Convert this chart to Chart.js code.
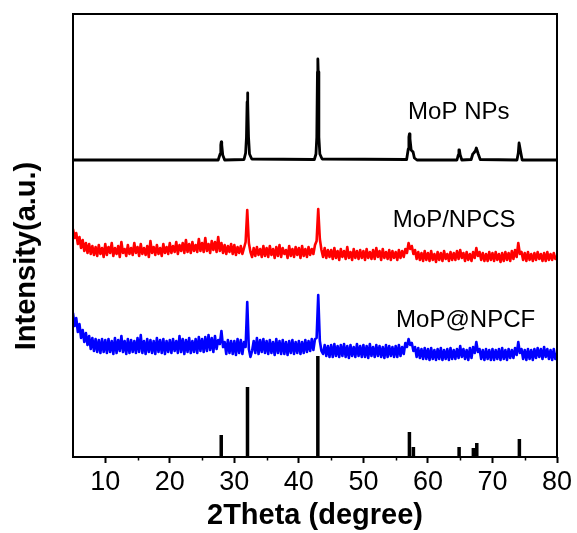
<!DOCTYPE html>
<html>
<head>
<meta charset="utf-8">
<script src="https://cdn.jsdelivr.net/npm/chart.js@4/dist/chart.umd.min.js"></script>
<style>
  html, body { margin: 0; padding: 0; background: #fff; }
  #wrap { width: 577px; height: 533px; }
</style>
</head>
<body>
<div id="wrap"><canvas id="xrd" width="577" height="533"></canvas></div>
<script>
// XRD patterns, intensity in arbitrary units (patterns stacked with offsets)

// MoP NPs: smooth pattern, [2θ, intensity] vertices
const mopNpsAngles = [5, 27.5, 27.8, 27.9, 27.97, 28.05, 28.2, 28.5, 31.5, 31.75, 31.88, 31.98, 32.04, 32.1, 32.2, 32.35, 32.7,
  42.4, 42.65, 42.78, 42.88, 42.94, 43.0, 43.1, 43.25, 43.6, 56.7, 56.95, 57.05, 57.13, 57.22, 57.4, 57.7, 57.9, 58.3,
  64.5, 64.7, 64.8, 64.88, 65.0, 65.25, 66.7, 66.95, 67.1, 67.35, 67.5, 67.6, 67.8, 68.1,
  73.8, 74.0, 74.12, 74.22, 74.4, 74.6, 80];
const mopNpsCounts = [297, 297, 303, 312, 315, 312, 302, 297, 297.5, 304, 320, 355, 364, 355, 320, 303, 298,
  297.5, 303, 320, 385, 398, 385, 320, 303, 298, 297.5, 308, 320, 323, 318, 307, 305, 299, 297,
  297, 302, 307, 307, 302, 297, 297.5, 303, 304, 306, 309, 309, 303, 297.5,
  297, 304, 314, 314, 304, 297, 297];

// scans sampled every 0.25° from 5° to 80°
const scanStart = 5;
const scanStep = 0.25;

const npcsCounts = [
  228,219,224,213,220,209,217,206,214,204,213,203,211,202,210,201,212,203,209,200,
  213,202,210,204,214,201,209,203,211,200,215,204,208,201,212,203,209,202,214,204,
  210,201,213,203,209,202,211,200,216,204,210,202,212,203,209,201,213,204,210,203,
  214,204,211,205,215,203,212,206,214,204,217,205,213,204,215,206,212,205,218,206,
  214,205,219,206,213,204,216,207,215,205,220,206,214,204,212,203,211,205,213,203,
  212,202,210,204,211,203,209,215,247,214,205,200,209,201,210,202,208,200,211,201,
  209,200,211,202,208,199,210,201,212,200,209,203,207,199,211,201,208,200,210,202,
  209,199,211,201,208,200,210,202,208,203,212,216,248,218,207,200,209,199,207,200,
  207,198,209,199,206,197,208,200,206,198,210,199,205,197,208,199,206,198,207,199,
  206,197,208,199,205,198,207,198,209,200,206,197,208,199,205,198,207,197,206,199,
  205,197,207,199,206,200,208,204,214,208,211,203,207,198,205,197,204,196,206,197,
  204,196,206,197,203,195,205,197,204,196,206,198,203,196,205,197,204,197,206,198,
  207,199,204,196,205,197,203,196,205,199,209,201,205,197,204,196,203,196,205,197,
  204,196,205,197,203,195,204,196,205,197,204,196,206,198,207,200,214,203,205,197,
  204,196,205,197,203,196,204,197,205,198,203,196,204,196,205,197,203,197,204,198,
  201
];

const npcfCounts = [
  144,131,139,125,133,119,127,115,124,112,121,108,119,106,118,105,117,104,118,105,
  117,104,118,105,116,103,119,104,117,106,121,105,116,103,118,104,117,105,116,104,
  119,105,122,104,116,103,118,105,117,104,116,103,119,105,117,104,118,103,116,105,
  117,104,118,106,116,104,121,105,118,103,117,105,119,104,116,105,118,104,120,106,
  118,105,120,106,122,107,119,105,121,108,117,113,126,110,115,103,117,104,116,103,
  116,102,118,104,117,103,115,110,155,108,100,106,116,104,119,103,117,105,118,104,
  116,103,117,104,115,102,118,104,116,103,117,103,115,102,116,104,117,103,115,104,
  116,103,115,104,117,105,116,106,118,107,118,119,162,116,106,103,112,101,111,100,
  112,100,113,101,111,100,112,101,113,100,111,99,112,101,110,100,113,101,111,100,
  112,100,111,99,113,101,110,100,112,101,111,100,110,99,112,100,111,101,110,100,
  111,100,112,101,110,103,114,110,118,112,114,106,110,100,109,99,108,98,109,98,
  108,97,109,98,107,97,108,98,109,97,107,98,108,97,109,98,107,98,108,99,
  111,100,108,98,107,97,109,99,110,104,115,105,108,98,107,97,108,98,107,97,
  108,97,107,98,108,97,109,98,107,97,108,99,107,99,109,102,115,104,108,98,
  107,97,108,98,107,97,108,99,109,100,108,98,110,100,108,98,107,97,108,98,
  104
];

// MoP reference pattern (stick positions and relative heights)
const refAngles = [27.97, 32.04, 42.94, 57.13, 57.75, 64.83, 67.04, 67.57, 74.17];
const refHeights = [22, 70, 101, 25, 10, 10, 9, 14, 18];

// x axis ticks
const majorTicks = [10, 20, 30, 40, 50, 60, 70, 80];
const minorTicks = [15, 25, 35, 45, 55, 65, 75];

// series names placed next to each pattern
const sampleNames = ['MoP NPs', 'MoP/NPCS', 'MoP@NPCF'];
const sampleNameAt = [[56.93, 338], [54.56, 230.3], [55.07, 130.3]];

const FONT = '"Liberation Sans", Arial, sans-serif';

const toPoints = (xs, ys) => xs.map((x, i) => ({ x, y: ys[i] }));
const scanPoints = ys => ys.map((y, i) => ({ x: scanStart + i * scanStep, y }));
const stickPoints = [];
refAngles.forEach((a, i) => {
  stickPoints.push({ x: a, y: 0 }, { x: a, y: refHeights[i] }, { x: a, y: null });
});

const decorations = {
  id: 'decorations',
  afterDatasetsDraw(chart) {
    const { ctx, chartArea: a, scales: { x, y } } = chart;
    ctx.save();
    ctx.strokeStyle = '#000';
    ctx.lineWidth = 2;
    ctx.strokeRect(a.left, a.top, a.right - a.left, a.bottom - a.top);

    ctx.lineWidth = 1.5;
    minorTicks.forEach(v => {
      const px = Math.round(x.getPixelForValue(v)) + 0.5;
      ctx.beginPath();
      ctx.moveTo(px, a.bottom);
      ctx.lineTo(px, a.bottom + 3.5);
      ctx.stroke();
    });

    ctx.fillStyle = '#000';
    ctx.font = '24px ' + FONT;
    ctx.textAlign = 'left';
    ctx.textBaseline = 'alphabetic';
    sampleNames.forEach((name, i) => {
      const [vx, vy] = sampleNameAt[i];
      ctx.fillText(name, x.getPixelForValue(vx), y.getPixelForValue(vy));
    });

    ctx.font = 'bold 29px ' + FONT;
    ctx.textAlign = 'center';
    ctx.fillText('2Theta (degree)', (a.left + a.right) / 2, 524);

    ctx.translate(27, 256);
    ctx.rotate(-Math.PI / 2);
    ctx.textBaseline = 'middle';
    ctx.fillText('Intensity(a.u.)', 0, 0);
    ctx.restore();
  }
};

new Chart(document.getElementById('xrd'), {
  type: 'line',
  data: {
    datasets: [
      { data: stickPoints, borderColor: '#000', borderWidth: 3.5, borderCapStyle: 'butt', spanGaps: false },
      { data: scanPoints(npcfCounts), borderColor: '#0000ff', borderWidth: 2.6 },
      { data: scanPoints(npcsCounts), borderColor: '#ff0000', borderWidth: 2.6 },
      { data: toPoints(mopNpsAngles, mopNpsCounts), borderColor: '#000', borderWidth: 2.8 }
    ]
  },
  options: {
    responsive: false,
    animation: false,
    events: [],
    elements: { point: { radius: 0 }, line: { tension: 0, borderJoinStyle: 'round' } },
    layout: { padding: { left: 0, right: 20, top: 14, bottom: 0 } },
    plugins: { legend: { display: false }, tooltip: { enabled: false } },
    scales: {
      x: {
        type: 'linear',
        min: 5,
        max: 80,
        afterBuildTicks: s => { s.ticks = majorTicks.map(v => ({ value: v })); },
        afterFit: s => { s.height = 76; },
        border: { display: false },
        grid: { drawOnChartArea: false, drawTicks: true, tickLength: 6, tickWidth: 2, tickColor: '#000' },
        ticks: { color: '#000', padding: 3, maxRotation: 0, font: { family: FONT, size: 27 } }
      },
      y: {
        min: 0,
        max: 443,
        afterFit: s => { s.width = 73; },
        border: { display: false },
        grid: { display: false },
        ticks: { display: false }
      }
    }
  },
  plugins: [decorations]
});
</script>
</body>
</html>
